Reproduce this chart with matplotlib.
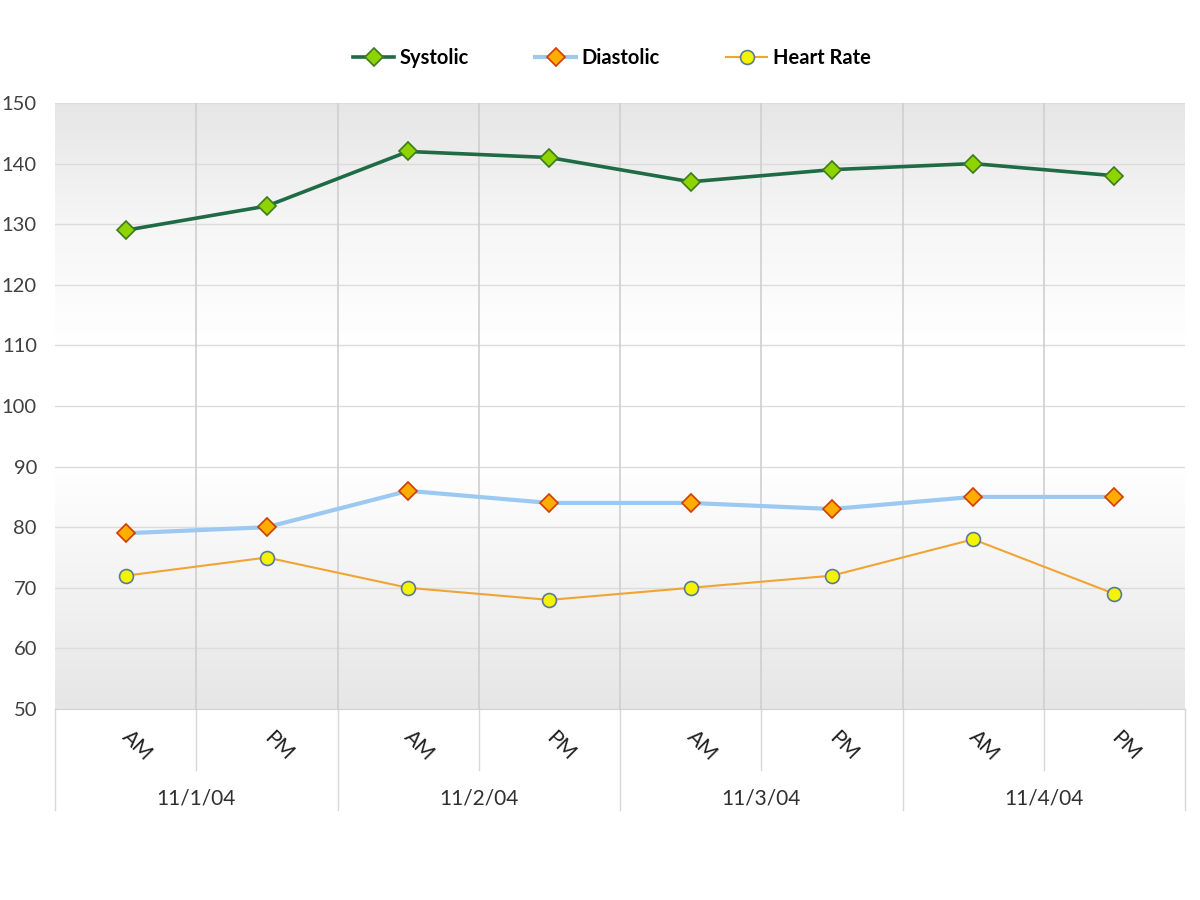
import numpy as np
import matplotlib
matplotlib.use("Agg")
import matplotlib.pyplot as plt
from matplotlib.colors import LinearSegmentedColormap

plt.rcParams['font.family'] = ['Lato', 'DejaVu Sans']

# readings, two per day
days = ["11/1/04", "11/2/04", "11/3/04", "11/4/04"]
periods = ["AM", "PM"]
systolic = [129, 133, 142, 141, 137, 139, 140, 138]
diastolic = [79, 80, 86, 84, 84, 83, 85, 85]
heart_rate = [72, 75, 70, 68, 70, 72, 78, 69]

n = len(systolic)
x = np.arange(n) + 0.5

fig = plt.figure(figsize=(12, 9), dpi=100)
ax = fig.add_axes([55 / 1200, 191 / 900, 1130 / 1200, 606 / 900])

# background gradient: gray at top and bottom, white in the middle
bg = LinearSegmentedColormap.from_list(
    "bg", [(0.0, "#e6e6e6"), (0.4, "#ffffff"), (0.6, "#ffffff"), (0.8, "#f6f6f6"), (1.0, "#e6e6e6")])
grad = np.linspace(1, 0, 256).reshape(-1, 1)
ax.imshow(grad, cmap=bg, aspect="auto", extent=[0, n, 50, 150], zorder=0)

ax.set_xlim(0, n)
ax.set_ylim(50, 150)
ax.set_yticks(range(50, 151, 10))
for v in range(60, 151, 10):
    ax.axhline(v, color="#dcdcdc", lw=1, zorder=1)
for i in range(1, n):
    ax.axvline(i, color="#cfcfcf", lw=1.2, zorder=1)

ax.plot(x, systolic, color="#1f6b45", lw=2.6, marker="D", ms=9,
        mfc="#8ed400", mec="#3d7a1e", mew=1.2, label="Systolic", zorder=4)
ax.plot(x, diastolic, color="#9cc9f2", lw=3, marker="D", ms=9,
        mfc="#ffae00", mec="#d23a00", mew=1.2, label="Diastolic", zorder=3)
ax.plot(x, heart_rate, color="#f0a434", lw=1.5, marker="o", ms=10,
        mfc="#f4f400", mec="#5a7a96", mew=1.2, label="Heart Rate", zorder=3)

for s in ["top", "right", "left"]:
    ax.spines[s].set_visible(False)
ax.spines["bottom"].set_color("#d0d0d0")
ax.tick_params(axis="y", length=0, pad=13, labelsize=14.5, labelcolor="#404040")
ax.tick_params(axis="x", length=0, labelbottom=False)

# category axis: AM/PM labels and day groups
tr = ax.get_xaxis_transform()
for i in range(n + 1):
    low = -0.167 if i % 2 == 0 else -0.100
    ax.plot([i, i], [0, low], transform=tr, color="#d8d8d8", lw=1, clip_on=False)
for i in range(n):
    ax.text(x[i] + 0.08, -0.061, periods[i % 2], transform=tr, rotation=-45,
            ha="center", va="center", fontsize=15, color="#202020")
for d, day in enumerate(days):
    ax.text(2 * d + 1, -0.147, day, transform=tr, ha="center", va="center",
            fontsize=15, color="#303030")

fig.legend(loc="center", bbox_to_anchor=(0.51, 0.935), ncol=3, frameon=False,
           prop={"weight": "bold", "size": 14.5}, handlelength=2.0,
           columnspacing=3.3, handletextpad=0.3)

fig.savefig("out.png", dpi=100)
